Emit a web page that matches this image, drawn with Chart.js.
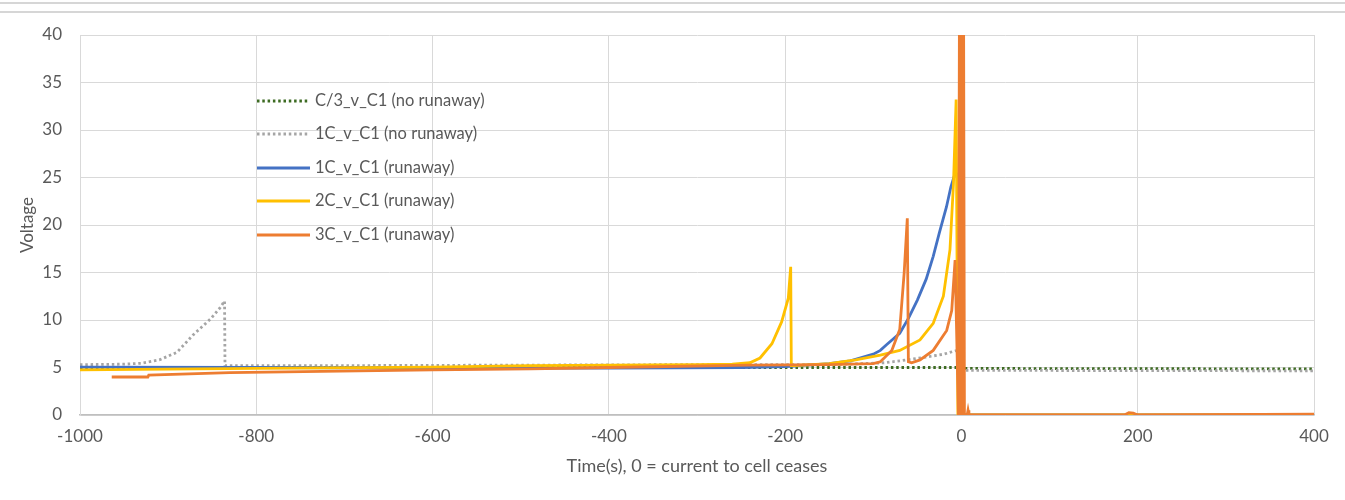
<!DOCTYPE html>
<html>
<head>
<meta charset="utf-8">
<script src="https://cdn.jsdelivr.net/npm/chart.js@4.4.1/dist/chart.umd.min.js"></script>
<style>
    body { margin: 0; background: #fff; }
    .wrap { position: relative; width: 1345px; height: 500px; }
    .rule { position: absolute; left: 0; width: 1345px; height: 2px; background: #d6d6d6; }
    canvas { position: absolute; left: 0; top: 0; }
</style>
</head>
<body>
<div class="wrap">
    <canvas id="voltChart" width="1345" height="500"></canvas>
    <div class="rule" style="top: 2px;"></div>
    <div class="rule" style="top: 11px;"></div>
</div>
<script>
// C/3 charge, no runaway
const c3Time = [-1000, -500, -250, 0, 2, 400];
const c3Volt = [5.0, 5.0, 5.0, 5.0, 4.9, 4.85];

// 1C charge, no runaway
const c1nTime = [-1000, -950, -930, -910, -890, -872, -852, -841, -836, -835.5, -700, -500, -300, -150, -100, -87, -70, -40, -20, -9, -5, 1, 400];
const c1nVolt = [5.3, 5.35, 5.45, 5.8, 6.6, 8.4, 10.1, 11.3, 12.0, 5.2, 5.2, 5.25, 5.3, 5.3, 5.45, 5.5, 5.7, 6.1, 6.4, 6.7, 6.8, 4.7, 4.65];

// 1C charge, runaway
const c1rTime = [-1000, -800, -600, -400, -250, -200, -150, -126, -100, -92, -85, -70, -60, -50, -40, -32, -25, -17, -12, -7, -4.5, -3, 400];
const c1rVolt = [5.05, 5.0, 4.95, 4.95, 5.0, 5.1, 5.4, 5.7, 6.4, 6.8, 7.4, 8.6, 10.2, 12.1, 14.3, 16.7, 19.2, 21.9, 24.0, 25.5, 25.3, 0, 0];

// 2C charge, runaway
const c2Time = [-1000, -800, -600, -489, -300, -260, -240, -228.5, -215, -204, -196.4, -193.7, -193, -190, -150, -120, -92, -70, -47, -32, -20.5, -13, -9, -6, -4, 400];
const c2Volt = [4.75, 4.9, 5.05, 5.2, 5.3, 5.35, 5.5, 6.0, 7.5, 9.8, 12.3, 15.6, 5.2, 5.2, 5.4, 5.8, 6.3, 6.8, 7.9, 9.65, 12.5, 17.4, 24.4, 33.2, 0, 0];

// 3C charge, runaway
const c3rTime = [-964, -923, -922, -830, -600, -489, -400, -240, -150, -100, -92, -79, -70, -65, -61.4, -60.2, -56.5, -47, -32, -16.7, -11, -7.2, -3.4, -2.2, -1.2, 0.2, 1.2, 2.4, 3.4, 6.5, 7.5, 8.5, 185, 190, 195, 200, 280, 400];
const c3rVolt = [4.0, 4.0, 4.2, 4.45, 4.75, 4.85, 5.0, 5.25, 5.3, 5.4, 5.6, 6.8, 9.0, 14.9, 20.7, 5.6, 5.5, 5.8, 6.8, 8.9, 11.0, 16.3, 0, 45, 0, 45, 0, 45, 0, 0, 0.5, 0, 0, 0.25, 0.2, 0, 0.05, 0.1];

const seriesNames = ['C/3_v_C1 (no runaway)', '1C_v_C1 (no runaway)', '1C_v_C1 (runaway)', '2C_v_C1 (runaway)', '3C_v_C1 (runaway)'];
const xTicks = [-1000, -800, -600, -400, -200, 0, 200, 400];

const FONT = "Lato, 'Open Sans', sans-serif";
const TEXT = '#595959';
const DOTS = [2.5, 2.8];

function toPoints(xs, ys) {
    return xs.map((x, i) => ({ x: x, y: ys[i] }));
}

const series = [
    { name: seriesNames[0], t: c3Time, v: c3Volt, color: '#3d6b22', dash: DOTS, order: 5 },
    { name: seriesNames[1], t: c1nTime, v: c1nVolt, color: '#a5a5a5', dash: DOTS, order: 4 },
    { name: seriesNames[2], t: c1rTime, v: c1rVolt, color: '#4472c4', dash: [], order: 3 },
    { name: seriesNames[3], t: c2Time, v: c2Volt, color: '#ffc000', dash: [], order: 2 },
    { name: seriesNames[4], t: c3rTime, v: c3rVolt, color: '#ed7d31', dash: [], order: 1 }
];

// legend drawn inside the plot, left side
const insideLegend = {
    id: 'insideLegend',
    afterDatasetsDraw(chart) {
        const ctx = chart.ctx;
        const rows = [101, 134, 168, 201, 235];
        ctx.save();
        series.forEach((s, i) => {
            const y = rows[i];
            ctx.beginPath();
            ctx.strokeStyle = s.color;
            ctx.lineWidth = 2.8;
            ctx.setLineDash(s.dash);
            ctx.moveTo(257, y);
            ctx.lineTo(310, y);
            ctx.stroke();
            ctx.setLineDash([]);
            ctx.fillStyle = TEXT;
            ctx.font = '16.5px ' + FONT;
            ctx.textBaseline = 'middle';
            ctx.textAlign = 'left';
            ctx.fillText(s.name, 315, y);
        });
        ctx.restore();
    }
};

new Chart(document.getElementById('voltChart'), {
    type: 'line',
    data: {
        datasets: series.map(s => ({
            label: s.name,
            data: toPoints(s.t, s.v),
            borderColor: s.color,
            backgroundColor: s.color,
            borderWidth: 2.8,
            borderDash: s.dash,
            pointRadius: 0,
            tension: 0,
            fill: false,
            order: s.order
        }))
    },
    options: {
        responsive: false,
        animation: false,
        devicePixelRatio: 1,
        layout: { padding: { top: 35, right: 31, left: 0, bottom: 0 } },
        plugins: {
            legend: { display: false },
            tooltip: { enabled: false }
        },
        scales: {
            x: {
                type: 'linear',
                min: -1000,
                max: 400,
                afterBuildTicks: axis => { axis.ticks = xTicks.map(v => ({ value: v })); },
                afterFit: axis => { axis.height = 85; },
                grid: { color: '#d9d9d9', drawTicks: false },
                border: { color: '#bfbfbf', width: 1.5 },
                ticks: {
                    color: TEXT,
                    font: { family: FONT, size: 17 },
                    padding: 11,
                    maxRotation: 0,
                    callback: v => String(v)
                },
                title: {
                    display: true,
                    text: 'Time(s), 0 = current to cell ceases',
                    color: TEXT,
                    font: { family: FONT, size: 18 },
                    padding: { top: 0, bottom: 23 }
                }
            },
            y: {
                min: 0,
                max: 40,
                afterFit: axis => { axis.width = 80; },
                grid: { color: '#d9d9d9', drawTicks: false },
                border: { color: '#d9d9d9' },
                ticks: { stepSize: 5, color: TEXT, font: { family: FONT, size: 17 }, padding: 18 },
                title: {
                    display: true,
                    text: 'Voltage',
                    color: TEXT,
                    font: { family: FONT, size: 17 },
                    padding: { top: 17, bottom: 0 }
                }
            }
        }
    },
    plugins: [insideLegend]
});
</script>
</body>
</html>
